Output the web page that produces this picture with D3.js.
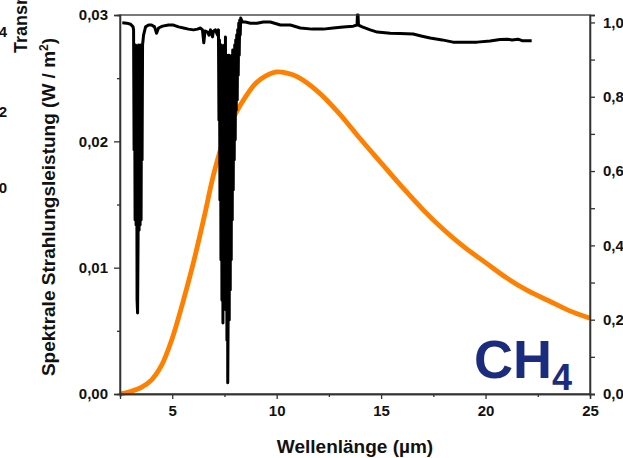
<!DOCTYPE html>
<html>
<head>
<meta charset="utf-8">
<script src="https://cdn.jsdelivr.net/npm/d3@7"></script>
<style>
  body { margin: 0; background: #fff; }
  svg { display: block; font-family: "Liberation Sans", Arial, sans-serif; }
  .axis path, .axis line { stroke: #333; stroke-width: 1.3px; }
  .axis text { font-size: 15px; font-weight: bold; fill: #111; }
</style>
</head>
<body>
<svg width="623" height="458"></svg>
<script>
// Planck curve (W / m^2 per µm), left axis
const planckWl = [2.5, 3.0, 3.5, 4.0, 4.5, 5.0, 5.5, 6.0, 6.5, 7.0, 7.5, 8.0, 8.5, 9.0, 9.5, 10.0, 10.5, 11.0,
  12.0, 13.0, 14.0, 15.0, 16.0, 17.0, 18.0, 19.0, 20.0, 21.0, 22.0, 23.0, 24.0, 25.0];
const planckVal = [0.0000, 0.0002, 0.0005, 0.0011, 0.0023, 0.0044, 0.0072, 0.0103, 0.0138, 0.0175, 0.0203, 0.0221,
  0.0235, 0.0246, 0.0252, 0.0255, 0.0254, 0.0251, 0.0239, 0.0222, 0.0202, 0.0183, 0.0164, 0.0146, 0.0130,
  0.0116, 0.0104, 0.0092, 0.0082, 0.0074, 0.0066, 0.0060];

// CH4 transmission, right axis
const transWl = [2.61, 2.82, 3.01, 3.126,
  3.150, 3.174, 3.198, 3.222, 3.246, 3.270, 3.293, 3.317, 3.341, 3.365, 3.389, 3.413, 3.437, 3.461, 3.485, 3.509,
  3.533, 3.556, 3.580, 3.628, 3.724, 3.867, 4.011, 4.154, 4.250, 4.345, 4.536, 4.823, 5.062, 5.301, 5.540, 5.779,
  6.018, 6.209, 6.353, 6.448, 6.511, 6.568, 6.687, 6.759, 6.831, 6.926, 6.974, 7.070, 7.165,
  7.213, 7.237, 7.261, 7.285, 7.309, 7.333, 7.357, 7.380, 7.404, 7.428, 7.452, 7.476, 7.500, 7.524, 7.548, 7.572,
  7.596, 7.619, 7.643, 7.658, 7.682, 7.706, 7.729, 7.753, 7.777, 7.801, 7.825, 7.849, 7.873, 7.897, 7.921, 7.945,
  7.968, 7.992, 8.016, 8.040, 8.064, 8.088, 8.112, 8.136, 8.160, 8.184, 8.207, 8.231, 8.255, 8.279,
  8.360, 8.504, 8.743, 9.063, 9.364, 9.699, 10.177, 10.655, 11.133, 11.707, 12.232, 12.710, 13.188, 13.666,
  13.848, 13.867, 13.896, 13.915, 14.097, 14.479, 14.814, 15.435, 15.913, 16.534, 16.965, 17.347, 17.921,
  18.446, 19.020, 19.594, 20.215, 20.693, 21.028, 21.267, 21.554, 21.745, 22.208];
const transVal = [0.999, 0.998, 0.995, 0.988,
  0.980, 0.657, 0.899, 0.468, 0.939, 0.455, 0.926, 0.253, 0.218, 0.414, 0.939, 0.441, 0.926, 0.455, 0.939, 0.468,
  0.899, 0.630, 0.939, 0.966, 0.988, 0.993, 0.993, 0.988, 0.971, 0.985, 0.990, 0.993, 0.993, 0.988, 0.985, 0.982,
  0.980, 0.982, 0.985, 0.980, 0.945, 0.977, 0.974, 0.966, 0.980, 0.961, 0.977, 0.980, 0.966,
  0.980, 0.737, 0.953, 0.522, 0.926, 0.361, 0.939, 0.253, 0.899, 0.191, 0.912, 0.280, 0.939, 0.253, 0.961, 0.226,
  0.912, 0.145, 0.899, 0.030, 0.253, 0.912, 0.199, 0.899, 0.280, 0.891, 0.361, 0.912, 0.468, 0.926, 0.549, 0.926,
  0.630, 0.939, 0.684, 0.953, 0.764, 0.966, 0.791, 0.980, 0.858, 0.998, 0.912, 1.006, 0.966, 1.012,
  1.001, 1.001, 0.998, 0.998, 1.001, 1.001, 0.993, 0.993, 0.985, 0.982, 0.982, 0.985, 0.988, 0.990,
  0.993, 1.020, 1.020, 0.993, 0.988, 0.980, 0.974, 0.971, 0.970, 0.969, 0.963, 0.958, 0.953,
  0.947, 0.947, 0.947, 0.950, 0.954, 0.955, 0.953, 0.955, 0.951, 0.951];

const xMajor = [5, 10, 15, 20, 25];
const xMinor = [2.5, 7.5, 12.5, 17.5, 22.5];
const yLeftMajor = [0, 0.01, 0.02, 0.03];
const yLeftMinor = [0.005, 0.015, 0.025];
const yRightMajor = [0, 0.2, 0.4, 0.6, 0.8, 1.0];
const yRightMinor = [0.1, 0.3, 0.5, 0.7, 0.9];
// cut-off labels of the neighbouring panel
const sideLabels = ["0,4", "0,2", "0,0"];

const de = d3.formatLocale({ decimal: ",", thousands: ".", grouping: [3], currency: ["", " €"] });

const margin = { top: 15, right: 33, bottom: 64, left: 120 };
const width = 623 - margin.left - margin.right;
const height = 458 - margin.top - margin.bottom;

const svg = d3.select("svg");
const g = svg.append("g").attr("transform", `translate(${margin.left},${margin.top})`);

const x = d3.scaleLinear().domain([2.5, 25]).range([0, width]);
const yL = d3.scaleLinear().domain([0, 0.03]).range([height, 0]);
const yR = d3.scaleLinear().domain([0, 1.02]).range([height, 0]);

// orange Planck curve
const planck = planckWl.map((w, i) => ({ w: w, v: planckVal[i] }));
g.append("path")
  .datum(planck)
  .attr("fill", "none")
  .attr("stroke", "#ff8000")
  .attr("stroke-width", 4.8)
  .attr("d", d3.line().x(d => x(d.w)).y(d => yL(d.v)).curve(d3.curveCatmullRom));

// black transmission line
const trans = transWl.map((w, i) => ({ w: w, v: transVal[i] }));
g.append("path")
  .datum(trans)
  .attr("fill", "none")
  .attr("stroke", "#000")
  .attr("stroke-width", 3)
  .attr("stroke-linejoin", "round")
  .attr("d", d3.line().x(d => x(d.w)).y(d => yR(d.v)));

// frame
g.append("rect")
  .attr("width", width).attr("height", height)
  .attr("fill", "none").attr("stroke", "#333").attr("stroke-width", 1.3);

// bottom axis
g.append("g").attr("class", "axis")
  .attr("transform", `translate(0,${height})`)
  .call(d3.axisBottom(x).tickValues(xMinor).tickSize(3).tickFormat(""));
g.append("g").attr("class", "axis")
  .attr("transform", `translate(0,${height})`)
  .call(d3.axisBottom(x).tickValues(xMajor).tickSize(5).tickPadding(6).tickFormat(d3.format("d")));

// left axis
g.append("g").attr("class", "axis")
  .call(d3.axisLeft(yL).tickValues(yLeftMinor).tickSize(3).tickFormat(""));
g.append("g").attr("class", "axis")
  .call(d3.axisLeft(yL).tickValues(yLeftMajor).tickSize(6).tickPadding(6).tickFormat(de.format(".2f")));

// right axis
g.append("g").attr("class", "axis")
  .attr("transform", `translate(${width},0)`)
  .call(d3.axisRight(yR).tickValues(yRightMinor).tickSize(5).tickFormat(""));
g.append("g").attr("class", "axis")
  .attr("transform", `translate(${width},0)`)
  .call(d3.axisRight(yR).tickValues(yRightMajor).tickSize(5).tickPadding(8).tickFormat(de.format(".1f")));

g.selectAll(".axis .domain").attr("stroke-width", 1.3);

// axis titles
svg.append("text")
  .attr("x", 355).attr("y", 453)
  .attr("text-anchor", "middle")
  .style("font-size", "19px").style("font-weight", "bold").style("fill", "#111")
  .text("Wellenlänge (µm)");

const yt = svg.append("text")
  .attr("transform", "translate(55,207) rotate(-90)")
  .attr("text-anchor", "middle")
  .style("font-size", "19px").style("font-weight", "bold").style("fill", "#111");
yt.append("tspan").text("Spektrale Strahlungsleistung (W / m");
yt.append("tspan").attr("dy", -7).style("font-size", "12px").text("2");
yt.append("tspan").attr("dy", 7).text(")");

// pieces of the neighbouring panel
svg.append("text")
  .attr("transform", "translate(27,53) rotate(-90)")
  .style("font-size", "18px").style("font-weight", "bold").style("fill", "#111")
  .text("Transmission");
svg.selectAll(".side")
  .data(sideLabels)
  .enter().append("text")
  .attr("class", "side")
  .attr("x", 7)
  .attr("y", (d, i) => [37, 117, 193][i])
  .attr("text-anchor", "end")
  .style("font-size", "15px").style("font-weight", "bold").style("fill", "#111")
  .text(d => d);

// CH4 label
const ch = svg.append("text")
  .attr("x", 474).attr("y", 378)
  .style("font-weight", "bold").style("fill", "#1b2b7e");
ch.append("tspan").style("font-size", "54px").text("CH");
ch.append("tspan").attr("dy", 12).style("font-size", "36px").text("4");
</script>
</body>
</html>
